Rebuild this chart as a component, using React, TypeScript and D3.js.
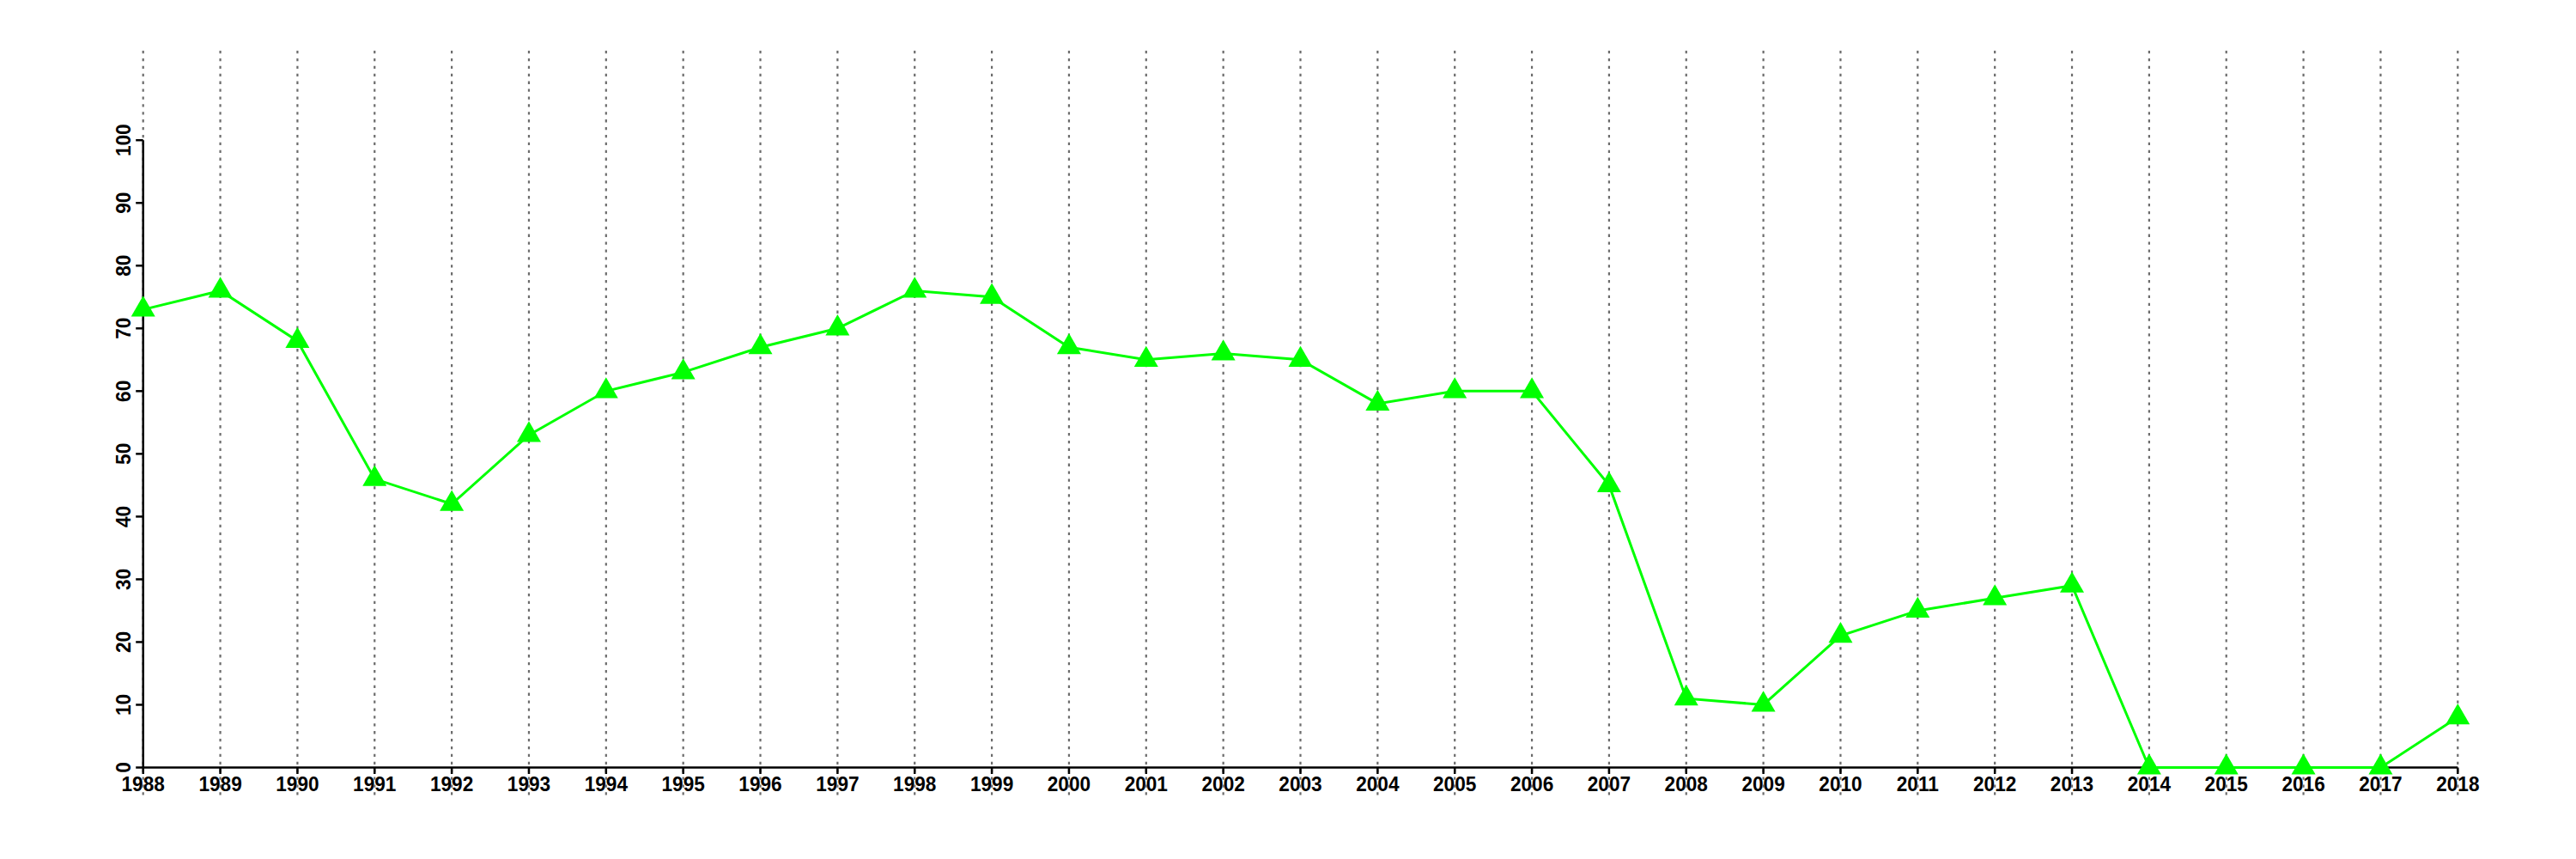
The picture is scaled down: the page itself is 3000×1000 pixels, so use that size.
import React from "react";
import * as d3 from "d3";

const years: number[] = [
  1988, 1989, 1990, 1991, 1992, 1993, 1994, 1995, 1996, 1997, 1998, 1999, 2000, 2001, 2002,
  2003, 2004, 2005, 2006, 2007, 2008, 2009, 2010, 2011, 2012, 2013, 2014, 2015, 2016, 2017, 2018,
];
const values: number[] = [
  73, 76, 68, 46, 42, 53, 60, 63, 67, 70, 76, 75, 67, 65, 66,
  65, 58, 60, 60, 45, 11, 10, 21, 25, 27, 29, 0, 0, 0, 0, 8,
];
const yTicks: number[] = [0, 10, 20, 30, 40, 50, 60, 70, 80, 90, 100];

const W = 3000;
const H = 1000;
const FONT = "'Liberation Sans', Arial, Helvetica, sans-serif";
const FS = 24.6;
const SX = 0.92;

export default function App() {
  const x = d3.scaleLinear().domain([1988, 2018]).range([166.7, 2862.3]);
  const y = d3.scaleLinear().domain([0, 100]).range([893.5, 163.2]);
  const gridTop = 59;
  const gridBottom = 927;

  const pts = years.map((yr, i) => [x(yr), y(values[i])] as [number, number]);
  const lineD = d3.line()(pts) || "";
  const tri = d3.symbol().type(d3.symbolTriangle).size(340)() || "";

  return (
    <svg
      width={W}
      height={H}
      style={{ position: "absolute", left: 0, top: 0, background: "#fff" }}
      fontFamily={FONT}
    >
      <rect x={0} y={0} width={W} height={H} fill="#fff" />
      {/* tick labels */}
      {yTicks.map((t) => (
        <text
          key={"yl" + t}
          transform={`translate(151.8,${y(t)}) rotate(-90) scale(${SX},1)`}
          textAnchor="middle"
          fontSize={FS}
          fontWeight="bold"
          fill="#000"
        >
          {t}
        </text>
      ))}
      {years.map((yr) => (
        <text
          key={"xl" + yr}
          transform={`translate(${x(yr)},920.7) scale(${SX},1)`}
          textAnchor="middle"
          fontSize={FS}
          fontWeight="bold"
          fill="#000"
        >
          {yr}
        </text>
      ))}
      {/* vertical dotted gridlines */}
      {years.map((yr) => (
        <line
          key={"g" + yr}
          x1={x(yr)}
          x2={x(yr)}
          y1={gridTop}
          y2={gridBottom}
          stroke="#6c6c6c"
          strokeWidth={2.2}
          strokeDasharray="3.3,5.6"
        />
      ))}
      {/* axes */}
      <line x1={x(1988)} x2={x(1988)} y1={y(100)} y2={y(0)} stroke="#000" strokeWidth={2.5} />
      <line x1={x(1988)} x2={x(2018)} y1={y(0)} y2={y(0)} stroke="#000" strokeWidth={2.5} />
      {yTicks.map((t) => (
        <line key={"yt" + t} x1={x(1988) - 8.5} x2={x(1988)} y1={y(t)} y2={y(t)} stroke="#000" strokeWidth={2.5} />
      ))}
      {years.map((yr) => (
        <line key={"xt" + yr} x1={x(yr)} x2={x(yr)} y1={y(0)} y2={y(0) + 7.5} stroke="#000" strokeWidth={2.5} />
      ))}
      {/* series line */}
      <path d={lineD} fill="none" stroke="#00ff00" strokeWidth={3} />
      {pts.map(([px, py], i) => (
        <path key={"m" + i} d={tri} transform={`translate(${px},${py})`} fill="#00ff00" />
      ))}
    </svg>
  );
}
